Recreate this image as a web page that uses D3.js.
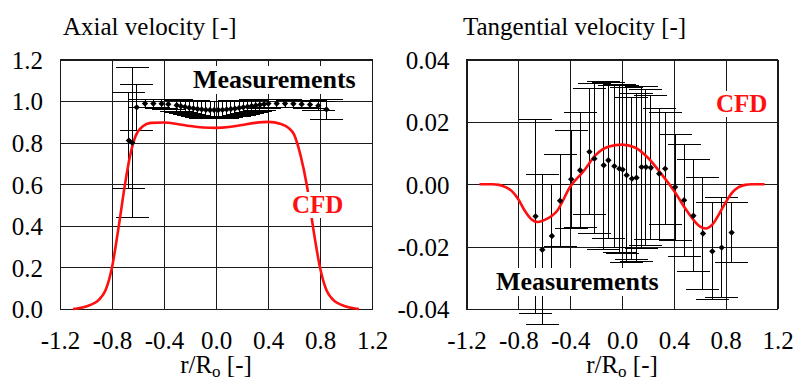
<!DOCTYPE html>
<html>
<head>
<meta charset="utf-8">
<script src="https://cdn.jsdelivr.net/npm/d3@7"></script>
<style>
  body { margin: 0; background: #fff; }
  svg { display: block; }
  text { font-family: "Liberation Serif", "Times New Roman", Times, serif; }
</style>
</head>
<body>
<svg id="chart" width="796" height="383"></svg>
<script>
'use strict';

var FONT = '"Liberation Serif", "Times New Roman", Times, serif';

// r/Ro axis, shared by both panels
var xTicks = [-1.2, -0.8, -0.4, 0.0, 0.4, 0.8, 1.2];
var xTickLabels = ['-1.2', '-0.8', '-0.4', '0.0', '0.4', '0.8', '1.2'];

// axial velocity panel
var axialTicks = [0, 0.2, 0.4, 0.6, 0.8, 1.0, 1.2];
var axialTickLabels = ['0.0', '0.2', '0.4', '0.6', '0.8', '1.0', '1.2'];
var axialCfdR = [-1.1, -1.0, -0.9, -0.85, -0.8, -0.75, -0.7, -0.66, -0.62, -0.56, -0.5, -0.4, -0.3, -0.2, -0.1,
  0.0, 0.1, 0.2, 0.3, 0.4, 0.5, 0.56, 0.6, 0.65, 0.7, 0.75, 0.8, 0.85, 0.9, 1.0, 1.1];
var axialCfdV = [0, 0.012, 0.045, 0.09, 0.2, 0.39, 0.6, 0.74, 0.83, 0.88, 0.895, 0.897, 0.89, 0.88, 0.873,
  0.871, 0.875, 0.885, 0.895, 0.9, 0.89, 0.87, 0.84, 0.74, 0.59, 0.38, 0.2, 0.09, 0.045, 0.012, 0];
var axialMeasR = [-0.67, -0.645, -0.61, -0.546, -0.482, -0.418, -0.367, -0.302,
  -0.27, -0.238, -0.206, -0.174, -0.142, -0.11, -0.078, -0.046, -0.014, 0.018, 0.05, 0.082, 0.114, 0.146,
  0.178, 0.21, 0.242, 0.274, 0.306, 0.338, 0.37,
  0.403, 0.467, 0.531, 0.595, 0.659, 0.723, 0.787, 0.85];
var axialMeasV = [0.81, 0.80, 0.97, 0.988, 0.988, 0.987, 0.985, 0.98,
  0.975, 0.972, 0.968, 0.965, 0.962, 0.96, 0.958, 0.957, 0.957, 0.957, 0.958, 0.96, 0.962, 0.964,
  0.967, 0.97, 0.973, 0.976, 0.979, 0.982, 0.985,
  0.988, 0.988, 0.988, 0.987, 0.985, 0.983, 0.978, 0.96];
var axialMeasErr = [0.23, 0.36, 0.11, 0.02, 0.02, 0.022, 0.025, 0.028,
  0.03, 0.032, 0.034, 0.036, 0.038, 0.039, 0.04, 0.04, 0.04, 0.04, 0.04, 0.039, 0.038, 0.037,
  0.035, 0.033, 0.031, 0.029, 0.027, 0.025, 0.023,
  0.02, 0.018, 0.018, 0.018, 0.018, 0.02, 0.022, 0.048];

// tangential velocity panel
var tangTicks = [-0.04, -0.02, 0, 0.02, 0.04];
var tangTickLabels = ['-0.04', '-0.02', '0.00', '0.02', '0.04'];
var tangCfdR = [-1.1, -1.0, -0.95, -0.9, -0.85, -0.8, -0.75, -0.7, -0.65, -0.6, -0.5, -0.4, -0.3, -0.2, -0.1,
  0.0, 0.1, 0.2, 0.3, 0.4, 0.5, 0.6, 0.645, 0.7, 0.75, 0.8, 0.85, 0.9, 0.95, 1.0, 1.1];
var tangCfdV = [0, 0, -0.0002, -0.0009, -0.0022, -0.0048, -0.0085, -0.0112, -0.0121, -0.0115, -0.0085, -0.0008, 0.004, 0.0095, 0.0121,
  0.0127, 0.0118, 0.0085, 0.0035, -0.002, -0.0085, -0.0135, -0.0142, -0.0128, -0.0095, -0.0058, -0.0027, -0.0009, -0.0002, 0, 0];
var tangMeasR = [-0.667, -0.615, -0.541, -0.478, -0.392, -0.323, -0.251, -0.213, -0.141, -0.105, -0.059, -0.02, 0.005, 0.036,
  0.077, 0.112, 0.151, 0.185, 0.223, 0.287, 0.333, 0.41, 0.479, 0.551, 0.625, 0.697, 0.769, 0.846];
var tangMeasV = [-0.0103, -0.021, -0.0166, -0.0053, 0.0016, 0.0045, 0.0104, 0.0082, 0.0061, 0.0077, 0.0058, 0.005, 0.0047, 0.0029,
  0.0018, 0.0021, 0.0055, 0.0055, 0.0053, 0.0034, 0.005, -0.0009, -0.0051, -0.0101, -0.0158, -0.0215, -0.0203, -0.0155];
var tangMeasErr = [0.031, 0.024, 0.0165, 0.0148, 0.0157, 0.0185, 0.0202, 0.024, 0.027, 0.025, 0.026, 0.027, 0.027, 0.028,
  0.026, 0.027, 0.026, 0.025, 0.023, 0.021, 0.018, 0.017, 0.018, 0.018, 0.018, 0.0155, 0.016, 0.0095];

var svg = d3.select('#chart');

function drawPanel(p) {
  var g = svg.append('g').attr('transform', 'translate(' + p.left + ',' + p.top + ')');

  var x = d3.scaleLinear().domain([-1.2, 1.2]).range([0, p.width]);
  var y = d3.scaleLinear().domain(p.yDomain).range([p.height, 0]);

  // grid + tick labels
  var xAxis = d3.axisBottom(x).tickValues(xTicks).tickSize(-p.height).tickPadding(22)
    .tickFormat(function(d, i) { return xTickLabels[i]; });
  var yAxis = d3.axisLeft(y).tickValues(p.yTicks).tickSize(-p.width).tickPadding(17)
    .tickFormat(function(d, i) { return p.yLabels[i]; });

  var gx = g.append('g').attr('transform', 'translate(0,' + p.height + ')').call(xAxis);
  var gy = g.append('g').call(yAxis);
  [gx, gy].forEach(function(a) {
    a.attr('font-family', FONT).attr('font-size', 25);
    a.select('.domain').remove();
    a.selectAll('line').attr('stroke', '#1a1a1a').attr('stroke-width', 1).attr('shape-rendering', 'crispEdges');
    a.selectAll('text').attr('fill', '#000');
  });
  gy.selectAll('text').attr('dy', '0.35em');

  g.append('rect').attr('width', p.width).attr('height', p.height)
    .attr('fill', 'none').attr('stroke', '#1a1a1a').attr('shape-rendering', 'crispEdges');

  // measurements with error bars
  var meas = p.measR.map(function(r, i) { return { r: r, v: p.measV[i], e: p.measErr[i] }; });
  var cap = 16.5;
  var bars = g.append('g').attr('stroke', '#000').attr('stroke-width', 1).attr('shape-rendering', 'crispEdges');
  meas.forEach(function(d) {
    var cx = x(d.r), y0 = y(d.v - d.e), y1 = y(d.v + d.e);
    bars.append('line').attr('x1', cx).attr('x2', cx).attr('y1', y0).attr('y2', y1);
    bars.append('line').attr('x1', cx - cap).attr('x2', cx + cap).attr('y1', y0).attr('y2', y0);
    bars.append('line').attr('x1', cx - cap).attr('x2', cx + cap).attr('y1', y1).attr('y2', y1);
  });

  // CFD curve
  var cfd = p.cfdR.map(function(r, i) { return [r, p.cfdV[i]]; });
  var line = d3.line()
    .x(function(d) { return x(d[0]); })
    .y(function(d) { return y(d[1]); })
    .curve(d3.curveMonotoneX);
  g.append('path').datum(cfd).attr('d', line)
    .attr('fill', 'none').attr('stroke', '#ff1010').attr('stroke-width', 2.6);

  g.selectAll('.pt').data(meas).enter().append('path')
    .attr('class', 'pt')
    .attr('d', d3.symbol().type(d3.symbolSquare).size(20))
    .attr('transform', function(d) { return 'translate(' + x(d.r) + ',' + y(d.v) + ') rotate(45)'; })
    .attr('fill', '#000');

  // labels on white boxes
  p.labels.forEach(function(l) {
    var lg = svg.append('g');
    var t = lg.append('text').attr('x', l.x).attr('y', l.y).text(l.text)
      .attr('font-family', FONT).attr('font-size', l.size).attr('font-weight', 'bold')
      .attr('fill', l.color);
    var bb = t.node().getBBox();
    lg.insert('rect', 'text').attr('x', bb.x - 2).attr('y', bb.y + 1).attr('width', bb.width + 4)
      .attr('height', bb.height - 1).attr('fill', '#fff');
  });

  // titles
  svg.append('text').attr('x', p.titleX).attr('y', 35).text(p.title)
    .attr('font-family', FONT).attr('font-size', 25);
  var xl = svg.append('text').attr('x', p.left + p.width / 2).attr('y', 373)
    .attr('text-anchor', 'middle').attr('font-family', FONT).attr('font-size', 25);
  xl.append('tspan').text('r/R');
  xl.append('tspan').text('o').attr('dy', 4).attr('font-size', 17);
  xl.append('tspan').text(' [-]').attr('dy', -4);
}

drawPanel({
  left: 60, top: 59.5, width: 312, height: 249.5,
  yDomain: [0, 1.2], yTicks: axialTicks, yLabels: axialTickLabels,
  cfdR: axialCfdR, cfdV: axialCfdV,
  measR: axialMeasR, measV: axialMeasV, measErr: axialMeasErr,
  title: 'Axial velocity [-]', titleX: 63,
  labels: [
    { text: 'Measurements', x: 193, y: 88, color: '#000', size: 26 },
    { text: 'CFD', x: 292, y: 213, color: '#ff1010', size: 25 }
  ]
});

drawPanel({
  left: 466.5, top: 59.5, width: 311, height: 249.5,
  yDomain: [-0.04, 0.04], yTicks: tangTicks, yLabels: tangTickLabels,
  cfdR: tangCfdR, cfdV: tangCfdV,
  measR: tangMeasR, measV: tangMeasV, measErr: tangMeasErr,
  title: 'Tangential velocity [-]', titleX: 463,
  labels: [
    { text: 'Measurements', x: 496, y: 290, color: '#000', size: 26 },
    { text: 'CFD', x: 716, y: 112, color: '#ff1010', size: 25 }
  ]
});
</script>
</body>
</html>
